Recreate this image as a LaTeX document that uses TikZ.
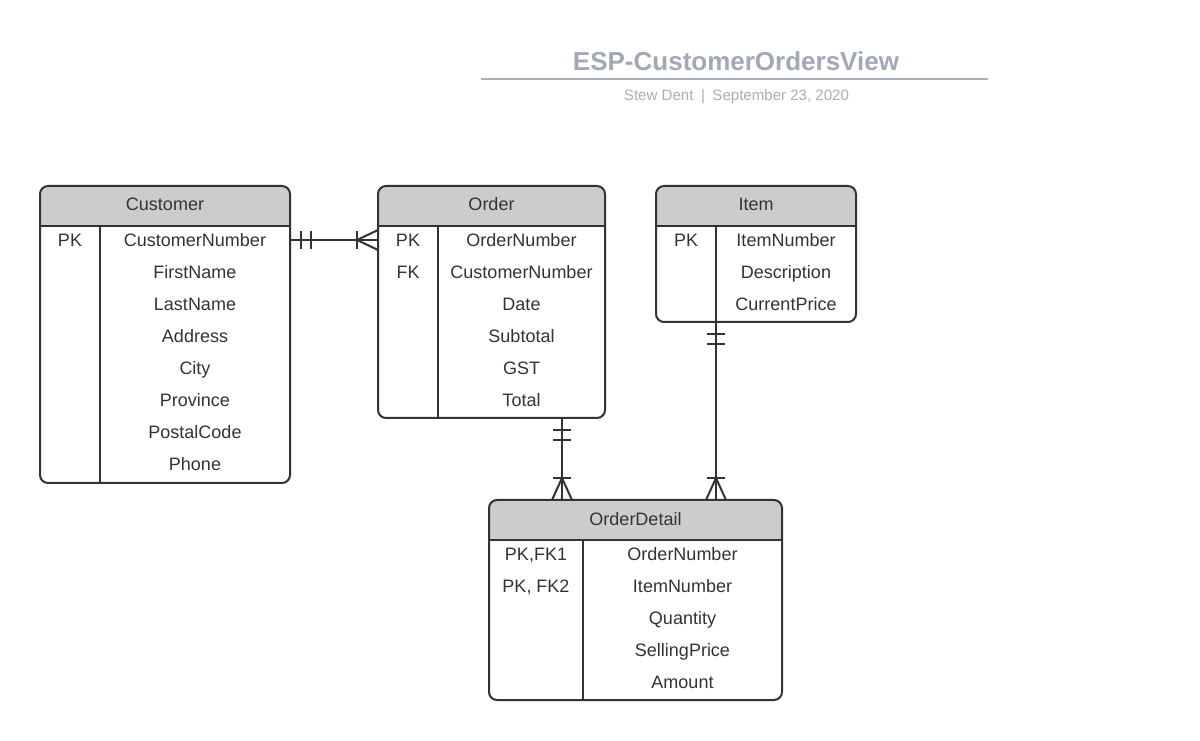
\documentclass[tikz,border=0pt]{standalone}
\usepackage{fontspec}
\setmainfont{Liberation Sans}
\usetikzlibrary{calc,fit}
\definecolor{ink}{HTML}{333333}
\definecolor{hdr}{HTML}{CCCCCC}
\definecolor{ttl}{HTML}{A3A9B4}
\definecolor{subc}{HTML}{A9AEB8}
\tikzset{
  tbl/.style={draw=ink, line width=1.5pt, rounded corners=6pt, inner sep=0pt, outer sep=0pt},
  cell/.style={font=\fontsize{13.5}{16}\selectfont, text=ink, anchor=center, inner sep=0pt, text height=9.7pt, text depth=0pt},
  conn/.style={draw=ink, line width=1.5pt},
  sep/.style={draw=ink, line width=1.5pt},
}
\newcommand\ertable[6]{%
  \begin{scope}
    \clip[rounded corners=6pt] (#2,#3) rectangle (#4,#5);
    \fill[hdr] (#2,#3) rectangle (#4,#3+40);
  \end{scope}
  \node[tbl, fit={(#2,#3) (#4,#5)}] (#1) {};
  \draw[sep] (#2,#3+40) -- (#4,#3+40);
  \draw[sep] (#6,#3+40) -- (#6,#5);
}
\begin{document}
\begin{tikzpicture}[x=0.75pt,y=-0.75pt]
\fill[white] (0,0) rectangle (1200,741);
\useasboundingbox (0,0) rectangle (1200,741);

% title
\node[inner sep=0pt, text height=13.9pt, text depth=0pt, font=\fontsize{19.5}{22}\selectfont\bfseries, text=ttl] (title) at (736,61) {ESP-CustomerOrdersView};
\draw[draw=subc, line width=1.5pt] (481,79) -- (988,79);
\node[inner sep=0pt, text height=8.2pt, text depth=0pt, font=\fontsize{11.3}{13}\selectfont, text=subc] (subtitle) at (736.5,95) {Stew Dent\enspace|\enspace September 23, 2020};

% Customer
\ertable{cust}{40}{186}{290}{483}{100}
\node[cell] (c-h) at (165,204) {Customer};
\node[cell] (c-k1) at (70,240) {PK};
\node[cell] (c-f1) at (195,240) {CustomerNumber};
\node[cell] (c-f2) at (195,272) {FirstName};
\node[cell] (c-f3) at (195,304) {LastName};
\node[cell] (c-f4) at (195,336) {Address};
\node[cell] (c-f5) at (195,368) {City};
\node[cell] (c-f6) at (195,400) {Province};
\node[cell] (c-f7) at (195,432) {PostalCode};
\node[cell] (c-f8) at (195,464) {Phone};

% Order
\ertable{ord}{378}{186}{605}{418}{438}
\node[cell] (o-h) at (491.5,204) {Order};
\node[cell] (o-k1) at (408,240) {PK};
\node[cell] (o-k2) at (408,272) {FK};
\node[cell] (o-f1) at (521.5,240) {OrderNumber};
\node[cell] (o-f2) at (521.5,272) {CustomerNumber};
\node[cell] (o-f3) at (521.5,304) {Date};
\node[cell] (o-f4) at (521.5,336) {Subtotal};
\node[cell] (o-f5) at (521.5,368) {GST};
\node[cell] (o-f6) at (521.5,400) {Total};

% Item
\ertable{item}{656}{186}{856}{322}{716}
\node[cell] (i-h) at (756,204) {Item};
\node[cell] (i-k1) at (686,240) {PK};
\node[cell] (i-f1) at (786,240) {ItemNumber};
\node[cell] (i-f2) at (786,272) {Description};
\node[cell] (i-f3) at (786,304) {CurrentPrice};

% OrderDetail
\ertable{od}{489}{500}{782}{700}{583}
\node[cell] (d-h) at (635.5,519) {OrderDetail};
\node[cell] (d-k1) at (536,554) {PK,FK1};
\node[cell] (d-k2) at (536,586) {PK, FK2};
\node[cell] (d-f1) at (682.5,554) {OrderNumber};
\node[cell] (d-f2) at (682.5,586) {ItemNumber};
\node[cell] (d-f3) at (682.5,618) {Quantity};
\node[cell] (d-f4) at (682.5,650) {SellingPrice};
\node[cell] (d-f5) at (682.5,682) {Amount};

% Customer -- Order
\path (cust.east |- c-f1) coordinate (a1) (ord.west |- c-f1) coordinate (a2);
\draw[conn] (a1) -- (a2);
\draw[conn] ($(a1)+(11,-9)$) -- ++(0,18);
\draw[conn] ($(a1)+(21,-9)$) -- ++(0,18);
\draw[conn] ($(a2)+(-21,-9)$) -- ++(0,18);
\draw[conn] ($(a2)+(0,-10)$) -- ($(a2)+(-21,0)$) -- ($(a2)+(0,10)$);

% Order -- OrderDetail
\path ($(ord.south)+(70.5,0)$) coordinate (b1);
\path (od.north -| b1) coordinate (b2);
\draw[conn] (b1) -- (b2);
\draw[conn] ($(b1)+(-9,12)$) -- ++(18,0);
\draw[conn] ($(b1)+(-9,22)$) -- ++(18,0);
\draw[conn] ($(b2)+(-9,-22)$) -- ++(18,0);
\draw[conn] ($(b2)+(-10,0)$) -- ($(b2)+(0,-22)$) -- ($(b2)+(10,0)$);

% Item -- OrderDetail
\path ($(item.south)+(-40,0)$) coordinate (e1);
\path (od.north -| e1) coordinate (e2);
\draw[conn] (e1) -- (e2);
\draw[conn] ($(e1)+(-9,12)$) -- ++(18,0);
\draw[conn] ($(e1)+(-9,22)$) -- ++(18,0);
\draw[conn] ($(e2)+(-9,-22)$) -- ++(18,0);
\draw[conn] ($(e2)+(-10,0)$) -- ($(e2)+(0,-22)$) -- ($(e2)+(10,0)$);
\end{tikzpicture}
\end{document}
